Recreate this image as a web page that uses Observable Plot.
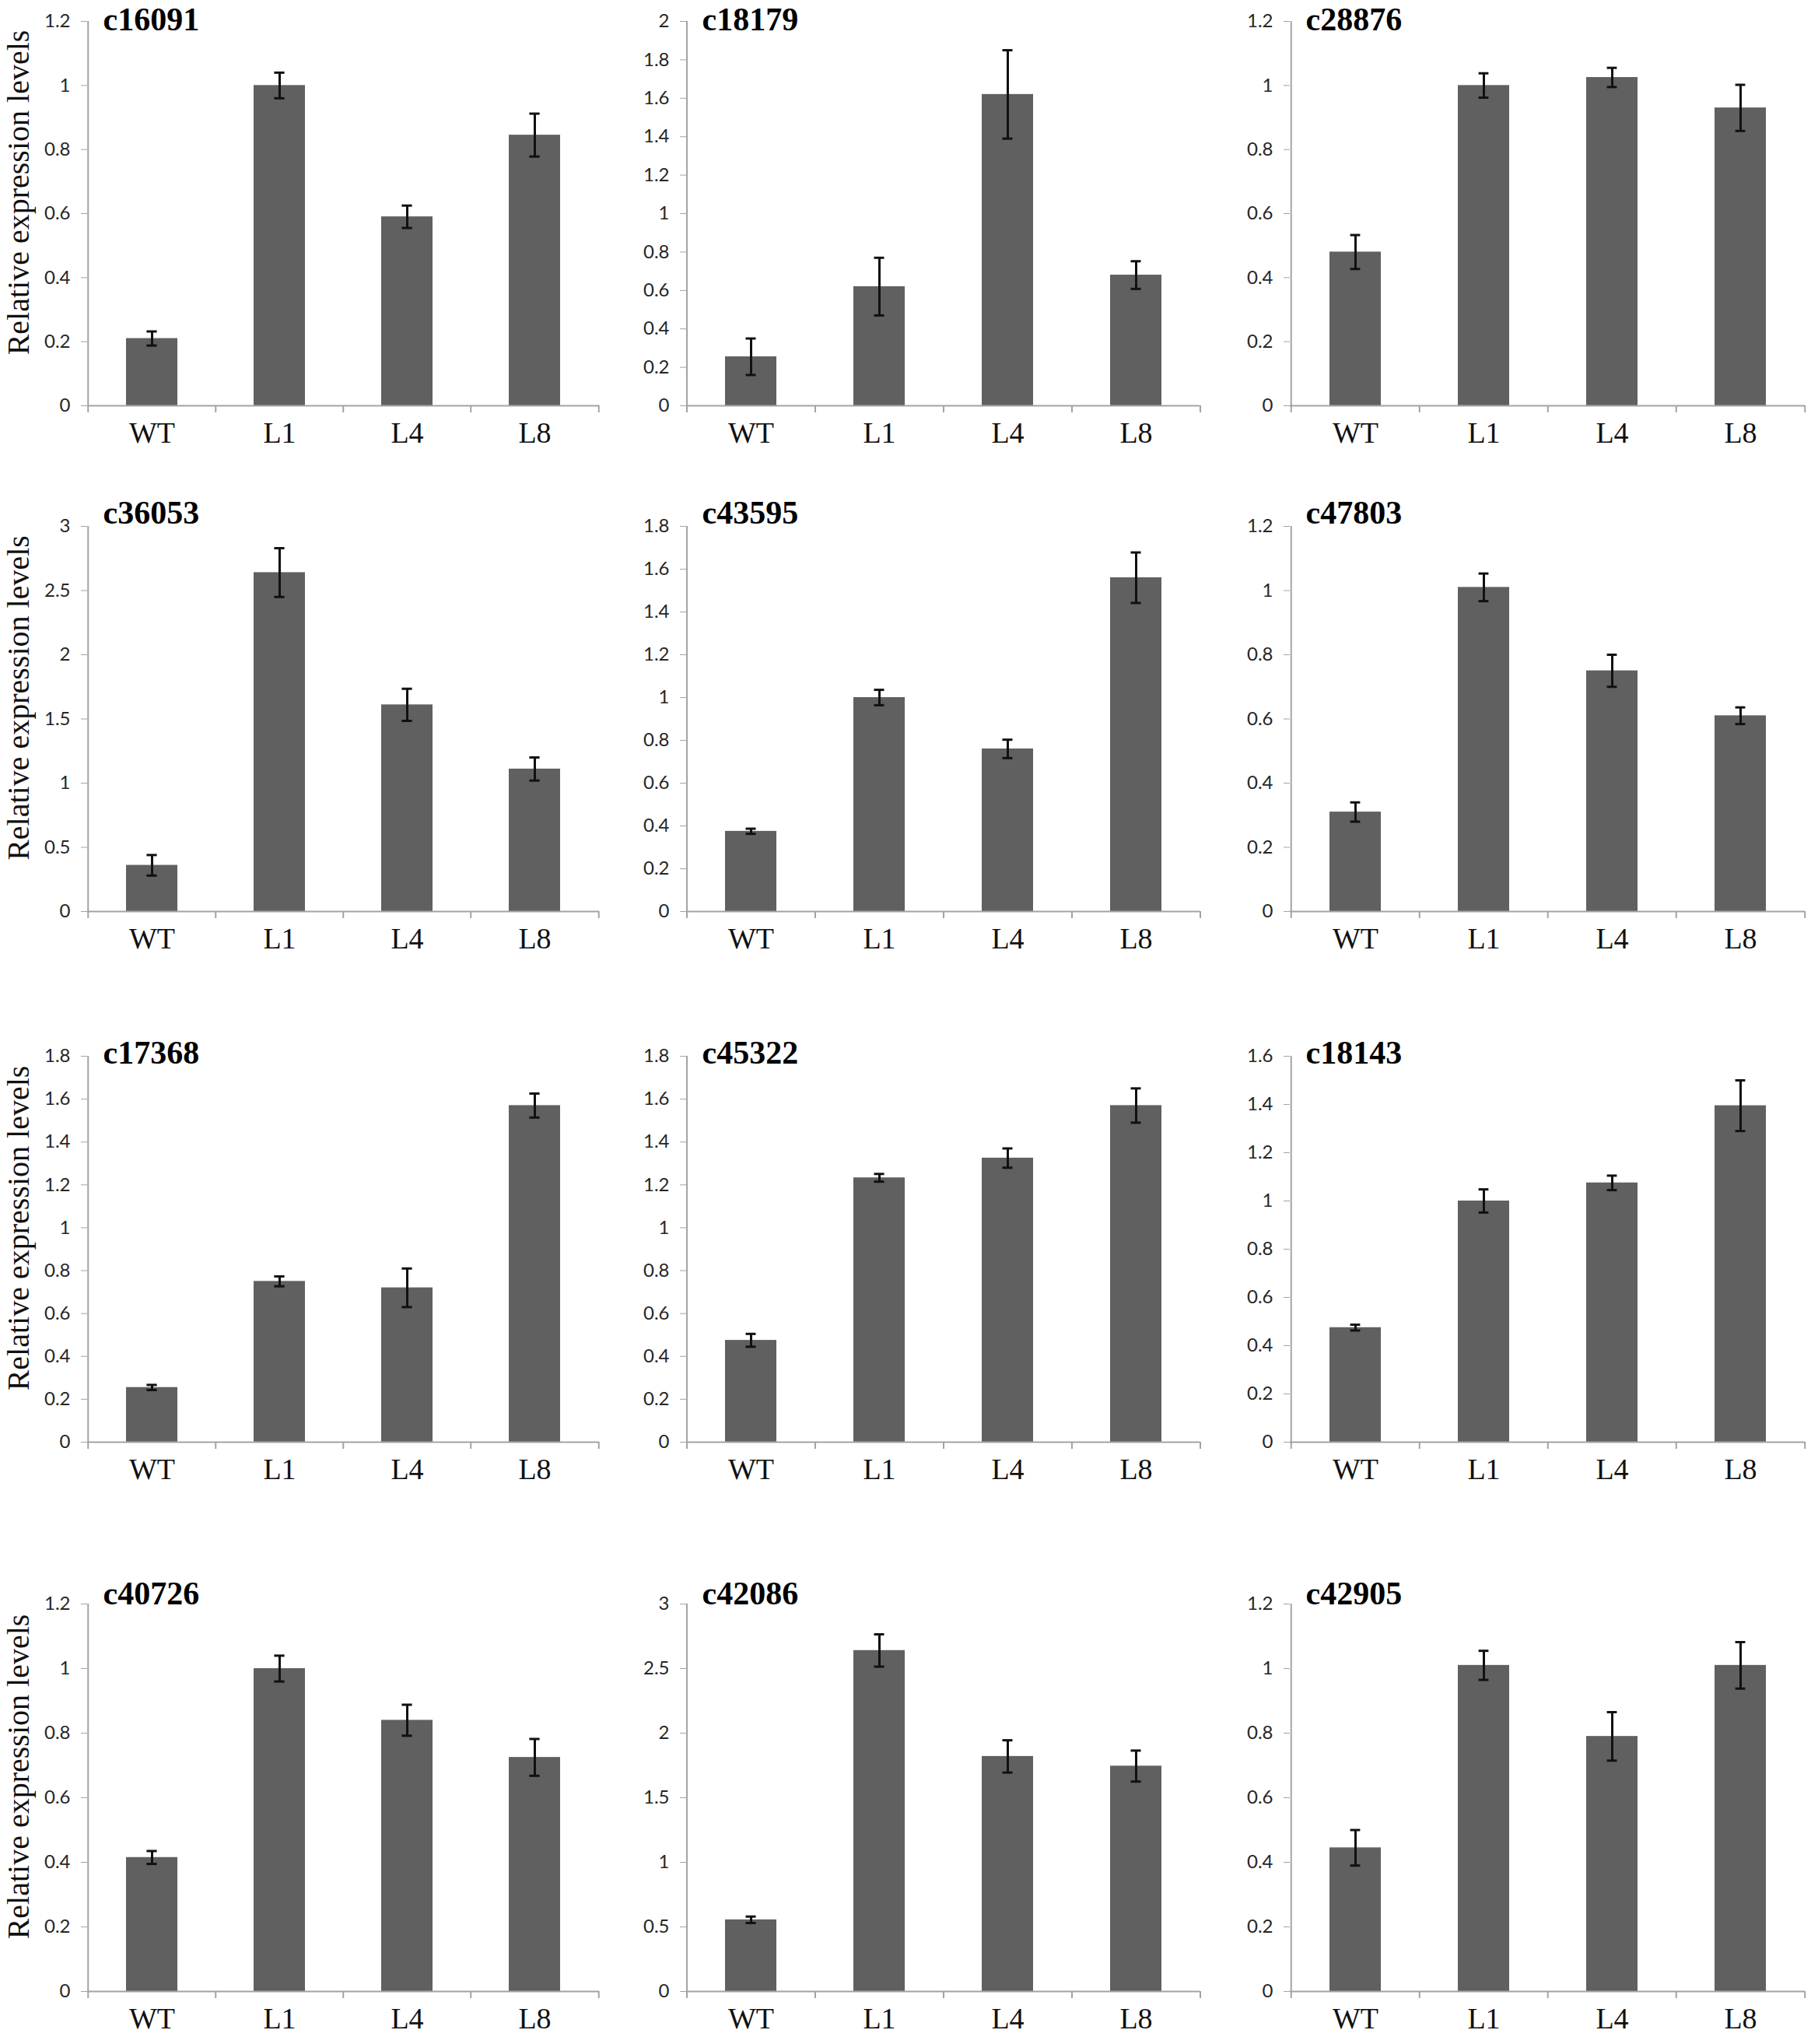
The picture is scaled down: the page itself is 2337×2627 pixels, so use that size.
<!DOCTYPE html>
<html>
<head>
<meta charset="utf-8">
<script src="https://cdn.jsdelivr.net/npm/d3@7"></script>
<script src="https://cdn.jsdelivr.net/npm/@observablehq/plot@0.6"></script>
<style>
  html, body { margin: 0; padding: 0; background: #fff; }
  #fig { position: relative; width: 2337px; height: 2627px; background: #fff; overflow: hidden; }
  #fig > div { position: absolute; }
</style>
</head>
<body>
<div id="fig"></div>
<script>
// ---- data ----
const categories = ["WT", "L1", "L4", "L8"];
const genes = ["c16091", "c18179", "c28876",
               "c36053", "c43595", "c47803",
               "c17368", "c45322", "c18143",
               "c40726", "c42086", "c42905"];
const means = [
  [0.21, 1.00, 0.59, 0.845],
  [0.255, 0.62, 1.62, 0.68],
  [0.48, 1.00, 1.025, 0.93],
  [0.36, 2.64, 1.61, 1.11],
  [0.375, 1.00, 0.76, 1.56],
  [0.31, 1.01, 0.75, 0.61],
  [0.255, 0.75, 0.72, 1.57],
  [0.475, 1.233, 1.325, 1.57],
  [0.475, 1.00, 1.075, 1.395],
  [0.415, 1.00, 0.84, 0.725],
  [0.555, 2.64, 1.82, 1.745],
  [0.445, 1.01, 0.79, 1.01]
];
const errors = [
  [0.022, 0.04, 0.035, 0.067],
  [0.095, 0.15, 0.23, 0.072],
  [0.053, 0.038, 0.03, 0.072],
  [0.08, 0.19, 0.125, 0.09],
  [0.012, 0.036, 0.043, 0.118],
  [0.03, 0.043, 0.05, 0.026],
  [0.012, 0.023, 0.09, 0.056],
  [0.03, 0.018, 0.045, 0.08],
  [0.012, 0.048, 0.03, 0.105],
  [0.02, 0.04, 0.048, 0.057],
  [0.025, 0.125, 0.125, 0.12],
  [0.055, 0.045, 0.075, 0.072]
];
const yMax  = [1.2, 2, 1.2, 3, 1.8, 1.2, 1.8, 1.8, 1.6, 1.2, 3, 1.2];
const yStep = [0.2, 0.2, 0.2, 0.5, 0.2, 0.2, 0.2, 0.2, 0.2, 0.2, 0.5, 0.2];
const yLabel = "Relative expression levels";

// ---- layout ----
const colLeft = [0, 770, 1545];
const axisX   = [112, 882, 1658];
const innerW  = [658, 660, 662];
const rowTop  = [27, 676, 1357, 2061];
const rowZero = [521, 1171, 1853, 2559];
const titleDy = [11, -4, 9, 0];
const mTop = 60, mBottom = 68, mRight = 12;

const axisColor = "#a3a3a3";
const barColor = "#606060";
const serif = "'Liberation Serif', 'Times New Roman', serif";
const sans = "Lato, 'Open Sans', sans-serif";
const fig = document.getElementById("fig");

genes.forEach((gene, k) => {
  const r = Math.floor(k / 3), c = k % 3;
  const rows = categories.map((cat, j) => ({cat, v: means[k][j], e: errors[k][j]}));
  const mLeft = axisX[c] - colLeft[c];
  const innerH = rowZero[r] - rowTop[r];
  const width = mLeft + innerW[c] + mRight;
  const height = mTop + innerH + mBottom;
  const step = innerW[c] / categories.length;
  const bw = step * 0.4;
  const capInset = (bw - 13) / 2;
  const ticks = d3.range(0, yMax[k] + yStep[k] / 2, yStep[k]);

  const marks = [
    Plot.barY(rows, {x: "cat", y: "v", fill: barColor}),
    Plot.ruleY([0], {stroke: axisColor, strokeWidth: 2}),
    Plot.ruleX([categories[0]], {x: d => d, y1: 0, y2: yMax[k], dx: -step / 2, stroke: axisColor, strokeWidth: 2}),
    Plot.ruleX(categories, {x: d => d, y1: 0, y2: 0, insetBottom: -9, dx: -step / 2, stroke: axisColor, strokeWidth: 2}),
    Plot.ruleX([categories[categories.length - 1]], {x: d => d, y1: 0, y2: 0, insetBottom: -9, dx: step / 2, stroke: axisColor, strokeWidth: 2}),
    Plot.ruleX(rows, {x: "cat", y1: d => d.v - d.e, y2: d => d.v + d.e, stroke: "#111", strokeWidth: 3}),
    Plot.tickY(rows, {x: "cat", y: d => d.v + d.e, insetLeft: capInset, insetRight: capInset, stroke: "#111", strokeWidth: 3}),
    Plot.tickY(rows, {x: "cat", y: d => d.v - d.e, insetLeft: capInset, insetRight: capInset, stroke: "#111", strokeWidth: 3}),
    Plot.axisY({ticks, tickSize: 8, tickPadding: 14, tickFormat: d3.format("~g"),
                fontSize: 24, fontFamily: sans, stroke: axisColor, fill: "#262626", label: null}),
    Plot.axisX({tickSize: 0, tickPadding: 21, fontSize: 38, fontFamily: serif, fill: "#111", label: null}),
    Plot.text([gene], {frameAnchor: "top-left", textAnchor: "start", lineAnchor: "bottom",
                       dx: 20, dy: titleDy[r], fontSize: 42, fontWeight: "bold", fontFamily: serif, fill: "#000"})
  ];
  if (c === 0) {
    marks.push(Plot.text([yLabel], {frameAnchor: "left", rotate: -90, textAnchor: "middle", lineAnchor: "middle",
                                    dx: -88, dy: -27, fontSize: 40, fontFamily: serif, fill: "#111"}));
  }

  const svg = Plot.plot({
    width, height,
    marginLeft: mLeft, marginRight: mRight, marginTop: mTop, marginBottom: mBottom,
    style: {background: "transparent", overflow: "visible", maxWidth: "none"},
    x: {type: "band", domain: categories, paddingInner: 0.6, paddingOuter: 0.3, align: 0.5, axis: null},
    y: {domain: [0, yMax[k]], axis: null},
    marks
  });
  const wrap = document.createElement("div");
  wrap.style.left = colLeft[c] + "px";
  wrap.style.top = (rowTop[r] - mTop) + "px";
  wrap.appendChild(svg);
  fig.appendChild(wrap);
});
</script>
</body>
</html>
